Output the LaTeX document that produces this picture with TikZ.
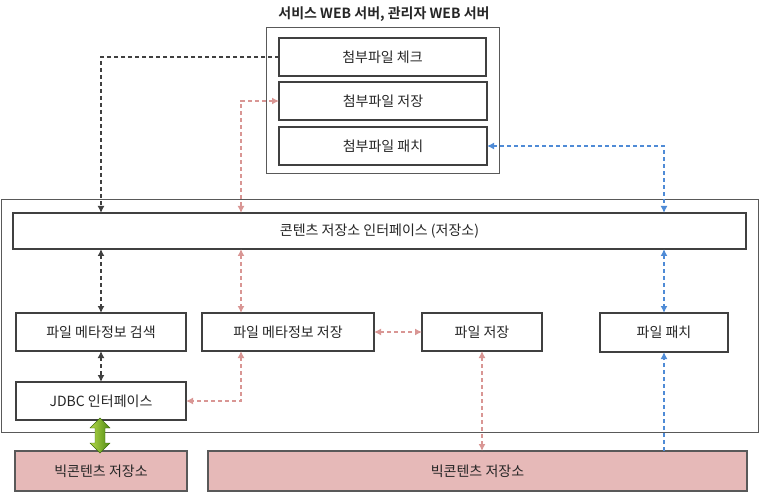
\documentclass[tikz,border=0pt]{standalone}
\usepackage{fontspec}
\setmainfont{Noto Sans CJK KR}[BoldFont={* Bold}]
\usetikzlibrary{arrows.meta,calc}
\definecolor{boxline}{HTML}{404040}
\definecolor{frameline}{HTML}{595959}
\definecolor{blkarrow}{HTML}{404040}
\definecolor{pinkarrow}{HTML}{D99694}
\definecolor{bluearrow}{HTML}{4F8BD6}
\definecolor{storefill}{HTML}{E6B9B8}
\definecolor{txt}{HTML}{262626}
\definecolor{greenA}{HTML}{B5D94A}
\definecolor{greenB}{HTML}{4E8A12}
\tikzset{
  box/.style={draw=boxline, line width=2pt, fill=white, inner sep=0pt, outer sep=0pt,
    text=txt, font=\fontsize{14}{16}\selectfont},
  store/.style={box, fill=storefill, draw=frameline},
  frame/.style={draw=frameline, line width=1pt},
  conn/.style={line width=2pt, dash pattern=on 4pt off 3pt, arrows={-Latex[length=7pt,width=7pt]}},
  bconn/.style={conn, arrows={Latex[length=7pt,width=7pt]-Latex[length=7pt,width=7pt]}},
  blk/.style={draw=blkarrow},
  pnk/.style={draw=pinkarrow},
  blu/.style={draw=bluearrow},
}
\begin{document}
\begin{tikzpicture}[x=1pt,y=-1pt]
\useasboundingbox (0,0) rectangle (760,494);
% frames
\draw[frame] (266.5,27.5) rectangle (499.5,173.5);
\node[font=\bfseries\fontsize{14}{16}\selectfont, text=txt] (title) at (384,14) {서비스 WEB 서버, 관리자 WEB 서버};
\draw[frame] (1.5,199.5) rectangle (758.5,432.5);
% boxes
\node[box, minimum width=207, minimum height=38] (chk) at (382.5,57) {첨부파일 체크};
\node[box, minimum width=208, minimum height=38] (sav) at (383,101) {첨부파일 저장};
\node[box, minimum width=208, minimum height=38] (pat) at (383,146) {첨부파일 패치};
\node[box, minimum width=733, minimum height=36] (iface) at (379.5,231) {콘텐츠 저장소 인터페이스 (저장소)};
\node[box, minimum width=170, minimum height=38] (mse) at (101,332) {파일 메타정보 검색};
\node[box, minimum width=172, minimum height=38] (msv) at (288,332) {파일 메타정보 저장};
\node[box, minimum width=120, minimum height=38] (fsv) at (482,332) {파일 저장};
\node[box, minimum width=128, minimum height=39] (fpt) at (664,332.5) {파일 패치};
\node[box, minimum width=170, minimum height=38] (jdbc) at (101,401) {JDBC 인터페이스};
\node[store, minimum width=172, minimum height=40] (bs1) at (101,471) {빅콘텐츠 저장소};
\node[store, minimum width=539, minimum height=40] (bs2) at (477.5,471) {빅콘텐츠 저장소};
% connectors
\draw[conn, blk] (chk.west) -| (iface.north -| mse.north);
\draw[bconn, pnk] (sav.west) -| (iface.north -| 241,0);
\draw[bconn, blu] (pat.east) -| (iface.north -| fpt.north);
\draw[bconn, blk] (iface.south -| mse.north) -- (mse.north);
\draw[bconn, pnk] (iface.south -| 241,0) -- (msv.north -| 241,0);
\draw[bconn, blu] (iface.south -| fpt.north) -- (fpt.north);
\draw[bconn, blk] (mse.south) -- (jdbc.north);
\draw[bconn, pnk] (msv.south -| 241,0) |- (jdbc.east);
\draw[bconn, pnk] (msv.east) -- (fsv.west);
\draw[bconn, pnk] (fsv.south) -- (bs2.north -| fsv.south);
\draw[conn, blu] (bs2.north -| fpt.south) -- (fpt.south);
% green double arrow between jdbc and bs1
\coordinate (gt) at ($(jdbc.south)+(-1,-2)$);
\coordinate (gb) at ($(bs1.north -| gt)+(0,2)$);
\shade[left color=greenA, right color=greenB, draw=greenB!80!black, line width=0.4pt]
  (gt) -- ++(10,10) -- ++(-5,0) |- ($(gb)+(5,-10)$) -- ++(5,0) -- (gb) -- ++(-10,-10) -- ++(5,0)
  |- ($(gt)+(-5,10)$) -- ++(-5,0) -- cycle;
\end{tikzpicture}
\end{document}
